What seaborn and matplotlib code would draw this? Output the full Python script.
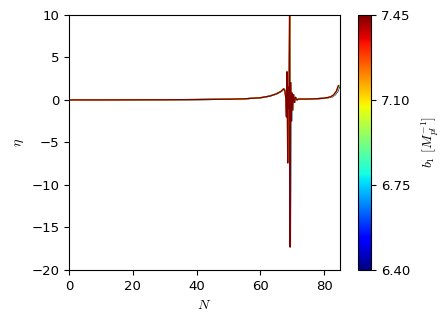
import numpy as np
import pandas as pd
import seaborn as sns
import matplotlib.pyplot as plt
import matplotlib as mpl

# b1 values (colour scale) and small per-curve shifts in N
b1_values = [6.40, 6.61, 6.82, 7.03, 7.24, 7.45]
spike_shift = [0.10, 0.08, 0.06, 0.04, 0.02, 0.0]
end_shift = [0.50, 0.40, 0.30, 0.20, 0.10, 0.0]

# base curve eta(N)
N_base = [0, 10, 20, 30, 40, 50, 55, 60, 63, 65, 66.5, 67.3, 67.7, 68.0, 68.2,
          68.4, 68.6, 68.8, 69.0, 69.2, 69.35, 69.5, 69.7, 69.9, 70.1, 70.4,
          70.7, 71.0, 71.5, 72, 75, 78, 80, 82, 83, 83.8, 84.3, 84.5]
eta_base = [0.0, 0.0, 0.01, 0.02, 0.04, 0.08, 0.13, 0.25, 0.45, 0.7, 1.0, 1.3,
            1.1, 0.2, -2.0, 3.3, -7.4, 1.5, -1.0, 12.0, -17.3, 2.0, -2.5, 0.8,
            -1.2, 0.6, -0.3, 0.3, 0.0, 0.1, 0.1, 0.15, 0.2, 0.35, 0.6, 1.0,
            1.5, 1.7]

rows = []
for b1, ds, de in zip(b1_values, spike_shift, end_shift):
    for n, e in zip(N_base, eta_base):
        if n >= 80:
            n = n + de
        elif n >= 66:
            n = n + ds
        rows.append({'b1': b1, 'N': n, 'eta': e})
df = pd.DataFrame(rows)

sns.set_style('ticks', {'axes.edgecolor': 'black', 'xtick.color': 'black',
                        'ytick.color': 'black', 'text.color': 'black',
                        'axes.labelcolor': 'black'})
plt.rcParams['mathtext.fontset'] = 'cm'
plt.rcParams['font.family'] = ['DejaVu Sans']

fig = plt.figure(figsize=(4.45, 3.24), dpi=100)
ax = fig.add_axes([0.155, 0.167, 0.609, 0.787])
cax = fig.add_axes([0.804, 0.167, 0.030, 0.787])

jet = mpl.colormaps['jet']
norm = mpl.colors.Normalize(vmin=6.40, vmax=7.45)
sns.lineplot(data=df, x='N', y='eta', hue='b1', palette=jet, hue_norm=norm,
             estimator=None, sort=False, legend=False, linewidth=0.9, ax=ax)

ax.set_xlim(0, 85)
ax.set_ylim(-20, 10)
ax.set_xticks([0, 20, 40, 60, 80])
ax.set_yticks([-20, -15, -10, -5, 0, 5, 10])
ax.set_xlabel(r'$N$', fontsize=10)
ax.set_ylabel(r'$\eta$', fontsize=10)
ax.tick_params(labelsize=9.5)

sm = mpl.cm.ScalarMappable(norm=norm, cmap=jet)
cb = fig.colorbar(sm, cax=cax, ticks=[6.40, 6.75, 7.10, 7.45])
cb.ax.set_yticklabels(['6.40', '6.75', '7.10', '7.45'])
cb.ax.tick_params(labelsize=9.5)
cb.set_label(r'$b_1\ [M_{pl}^{-1}]$', fontsize=10, labelpad=7)

fig.savefig('out.png', dpi=100)
